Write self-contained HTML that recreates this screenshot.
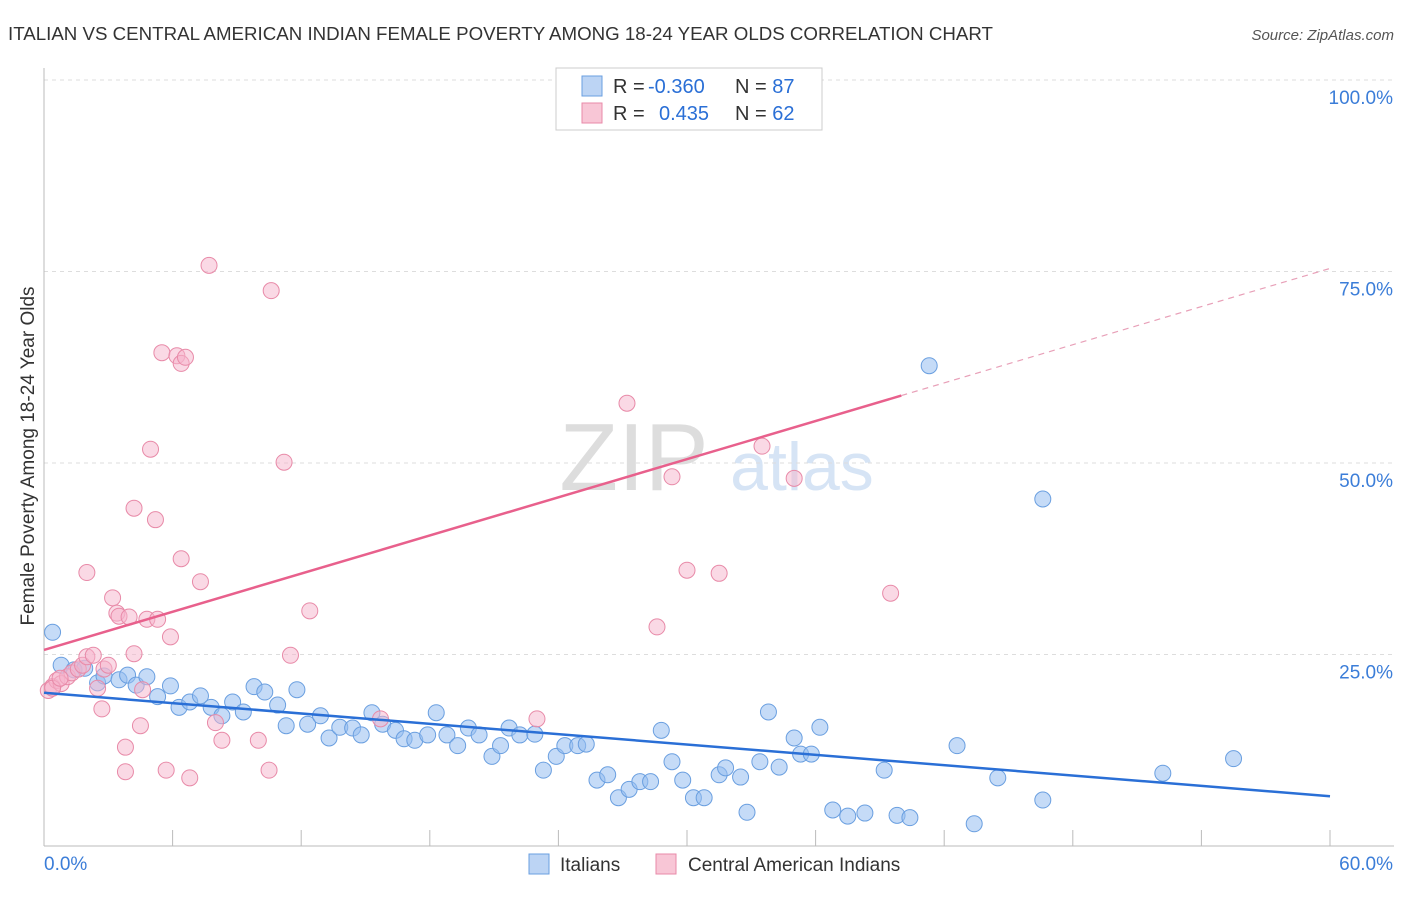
<!DOCTYPE html>
<html><head><meta charset="utf-8"><style>
body{margin:0;background:#fff;font-family:"Liberation Sans",sans-serif;}
svg text{font-family:"Liberation Sans",sans-serif;}
</style></head><body>
<svg id="chart" width="1406" height="892">
<text x="8" y="40" font-size="18" fill="#333" textLength="985" lengthAdjust="spacingAndGlyphs">ITALIAN VS CENTRAL AMERICAN INDIAN FEMALE POVERTY AMONG 18-24 YEAR OLDS CORRELATION CHART</text>
<text x="1394" y="40" font-size="15" fill="#555" font-style="italic" text-anchor="end">Source: ZipAtlas.com</text>
<text x="634" y="490" font-size="96" fill="#ddd" font-family="Liberation Serif" text-anchor="middle">ZIP</text>
<text x="802" y="490" font-size="68" fill="#d6e4f5" text-anchor="middle">atlas</text>
<g id="grid"></g><g id="axes"></g><g id="marks"></g><g id="lines"></g>
<g>
<rect x="556" y="68" width="266" height="62" fill="#fff" stroke="#ccc"/>
<rect x="582" y="76" width="20" height="20" fill="#bcd4f4" stroke="#6a9fe0"/>
<rect x="582" y="103" width="20" height="20" fill="#f8c6d6" stroke="#e88aa8"/>
<text x="613" y="93" font-size="20" fill="#333">R = <tspan fill="#2a6fd6" x="648">-0.360</tspan></text>
<text x="735" y="93" font-size="20" fill="#333">N = <tspan fill="#2a6fd6">87</tspan></text>
<text x="613" y="120" font-size="20" fill="#333">R = <tspan fill="#2a6fd6" x="659">0.435</tspan></text>
<text x="735" y="120" font-size="20" fill="#333">N = <tspan fill="#2a6fd6">62</tspan></text>
</g>
<g>
<rect x="529" y="854" width="20" height="20" fill="#bcd4f4" stroke="#6a9fe0"/>
<text x="560" y="871" font-size="19" fill="#333">Italians</text>
<rect x="656" y="854" width="20" height="20" fill="#f8c6d6" stroke="#e88aa8"/>
<text x="688" y="871" font-size="19" fill="#333">Central American Indians</text>
</g>
<text transform="translate(34,456) rotate(-90)" font-size="19" fill="#333" text-anchor="middle">Female Poverty Among 18-24 Year Olds</text>
</svg>
<script>
const yTicks=[25,50,75,100];
const yTickLabels=["25.0%","50.0%","75.0%","100.0%"];
const blueX=[0.4,0.8,1.4,1.9,2.5,2.8,3.5,3.9,4.3,4.8,5.3,5.9,6.3,6.8,7.3,7.8,8.3,8.8,9.3,9.8,10.3,10.9,11.3,11.8,12.3,12.9,13.3,13.8,14.4,14.8,15.3,15.8,16.4,16.8,17.3,17.9,18.3,18.8,19.3,19.8,20.3,20.9,21.3,21.7,22.2,22.9,23.3,23.9,24.3,24.9,25.3,25.8,26.3,26.8,27.3,27.8,28.3,28.8,29.3,29.8,30.3,30.8,31.5,31.8,32.5,32.8,33.4,33.8,34.3,35.0,35.3,35.8,36.2,36.8,37.5,38.3,39.2,39.8,40.4,41.3,42.6,43.4,44.5,46.6,46.6,52.2,55.5];
const blueY=[27.9,23.6,23.0,23.2,21.3,22.2,21.7,22.3,21.0,22.1,19.5,20.9,18.1,18.8,19.6,18.1,17.0,18.8,17.5,20.8,20.1,18.4,15.7,20.4,15.9,17.0,14.1,15.5,15.4,14.5,17.4,15.9,15.1,14.0,13.8,14.5,17.4,14.5,13.1,15.4,14.5,11.7,13.1,15.4,14.5,14.6,9.9,11.7,13.1,13.1,13.3,8.6,9.3,6.3,7.4,8.4,8.4,15.1,11.0,8.6,6.3,6.3,9.3,10.2,9.0,4.4,11.0,17.5,10.3,14.1,12.0,12.0,15.5,4.7,3.9,4.3,9.9,4.0,3.7,62.7,13.1,2.9,8.9,45.3,6.0,9.5,11.4];
const pinkX=[0.2,0.4,0.6,0.8,1.1,1.3,1.6,1.8,2.0,2.0,2.3,2.5,2.7,2.8,3.0,3.2,3.4,3.5,3.8,3.8,3.97,4.2,4.2,4.5,4.6,4.8,4.97,5.2,5.3,5.5,5.7,5.9,6.2,6.4,6.4,6.6,6.8,7.3,7.7,8.0,8.3,10.0,10.5,10.6,11.2,11.5,12.4,15.7,23.0,27.2,28.6,29.3,30.0,31.5,33.5,35.0,39.5,0.4,0.75];
const pinkY=[20.3,20.8,21.6,21.2,22.1,22.6,23.1,23.6,35.7,24.7,24.9,20.6,17.9,23.1,23.6,32.4,30.4,30.0,12.9,9.7,29.9,44.1,25.1,15.7,20.4,29.6,51.8,42.6,29.6,64.4,9.9,27.3,64.0,37.5,63.0,63.8,8.9,34.5,75.8,16.1,13.8,13.8,9.9,72.5,50.1,24.9,30.7,16.6,16.6,57.8,28.6,48.2,36.0,35.6,52.2,48.0,33.0,20.6,21.9];
const blueFit=[20.0,6.5], pinkFit=[25.6,75.4];
const X=v=>44+v*(1286/60), Y=v=>846-v*7.66;
const ns="http://www.w3.org/2000/svg";
const mk=(t,a,p)=>{const e=document.createElementNS(ns,t);for(const k in a)e.setAttribute(k,a[k]);p.appendChild(e);return e;};
const grid=document.getElementById('grid'),axes=document.getElementById('axes'),marks=document.getElementById('marks'),lines=document.getElementById('lines');
yTicks.forEach((t,i)=>{
 const g=mk('line',{x1:44,x2:1394,y1:Y(t),y2:Y(t),stroke:'#ddd','stroke-dasharray':'4,4'},grid);
 
 
 const tx=mk('text',{x:1393,y:Y(t)+24,'font-size':19,fill:'#3b7dd8','text-anchor':'end'},axes);
 tx.textContent=yTickLabels[i];
 
 
});
const xa=mk('line',{x1:44,x2:1394,y1:846,y2:846,stroke:'#bbb'},axes);


const ya=mk('line',{x1:44,x2:44,y1:68,y2:846,stroke:'#bbb'},axes);


for(let i=1;i<=10;i++){const t=mk('line',{x1:X(i*6),x2:X(i*6),y1:830,y2:846,stroke:'#bbb'},axes);
 
 }
[["0.0%",44,'start'],["60.0%",1393,'end']].forEach(([s,x,a])=>{const t=mk('text',{x:x,y:870,'font-size':19,fill:'#3b7dd8','text-anchor':a},axes);t.textContent=s;
 
 });
blueX.forEach((v,i)=>{const c=mk('circle',{cx:X(v),cy:Y(blueY[i]),r:8,fill:'rgba(150,190,240,0.55)',stroke:'#6a9fe0','stroke-width':1},marks);
 
 });
pinkX.forEach((v,i)=>{const c=mk('circle',{cx:X(v),cy:Y(pinkY[i]),r:8,fill:'rgba(245,180,204,0.5)',stroke:'#e88aa8','stroke-width':1},marks);
 
 });
const bl=mk('line',{x1:X(0),y1:Y(blueFit[0]),x2:X(60),y2:Y(blueFit[1]),stroke:'#2a6fd6','stroke-width':2.5},lines);


const pAt=x=>pinkFit[0]+(pinkFit[1]-pinkFit[0])*x/60;
const pl=mk('line',{x1:X(0),y1:Y(pAt(0)),x2:X(40),y2:Y(pAt(40)),stroke:'#e8608c','stroke-width':2.5},lines);


const pd=mk('line',{x1:X(40),y1:Y(pAt(40)),x2:X(60),y2:Y(pAt(60)),stroke:'#e8a0b8','stroke-width':1.2,'stroke-dasharray':'6,5'},lines);


</script>
</body></html>
